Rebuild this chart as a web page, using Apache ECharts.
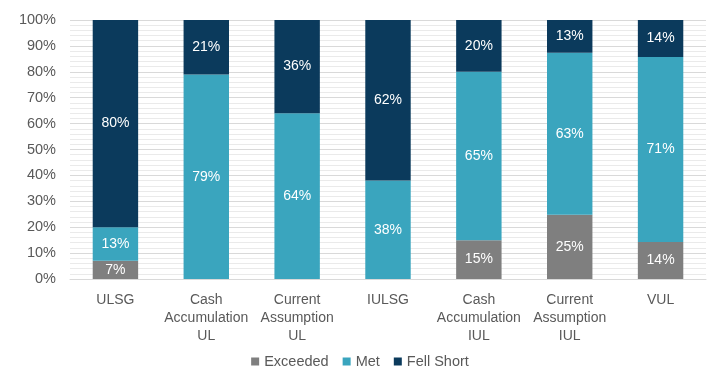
<!DOCTYPE html>
<html>
<head>
<meta charset="utf-8">
<script src="https://cdn.jsdelivr.net/npm/echarts@6/dist/echarts.min.js"></script>
<style>
  html, body { margin: 0; padding: 0; background: #fff; }
  #chart { width: 720px; height: 375px; }
</style>
</head>
<body>
<div id="chart"></div>
<script>
var categories = ['ULSG', 'Cash\nAccumulation\nUL', 'Current\nAssumption\nUL', 'IULSG',
    'Cash\nAccumulation\nIUL', 'Current\nAssumption\nIUL', 'VUL'];
// shares (labels are rounded)
var exceeded = [7, 0, 0, 0, 15, 24.8, 14.3];
var met = [13, 79, 64, 38, 65, 62.6, 71.4];
var fellShort = [80, 21, 36, 62, 20, 12.6, 14.3];
var yTicks = [0, 10, 20, 30, 40, 50, 60, 70, 80, 90, 100];

function makeSeries(name, data, color) {
    return {
        name: name,
        type: 'bar',
        stack: 'total',
        barWidth: '50%',
        data: data,
        itemStyle: { color: color },
        label: {
            show: true,
            position: 'inside',
            color: '#fff',
            fontSize: 14,
            fontFamily: 'Liberation Sans',
            formatter: function (p) { return p.value > 0 ? Math.round(p.value) + '%' : ''; }
        }
    };
}

var chart = echarts.init(document.getElementById('chart'));
var option = {
    animation: false,
    textStyle: { fontFamily: 'Liberation Sans' },
    grid: { left: 70, right: 14, top: 20, bottom: 96 },
    legend: {
        bottom: 1,
        itemWidth: 8,
        itemHeight: 8,
        itemGap: 14,
        icon: 'rect',
        textStyle: { color: '#595959', fontSize: 14.5, fontFamily: 'Liberation Sans' },
        data: ['Exceeded', 'Met', 'Fell Short']
    },
    xAxis: {
        type: 'category',
        data: categories,
        axisLine: { lineStyle: { color: '#d9d9d9' } },
        axisTick: { show: false },
        axisLabel: {
            color: '#595959', fontSize: 14, lineHeight: 18, margin: 12,
            interval: 0, fontFamily: 'Liberation Sans'
        }
    },
    yAxis: {
        type: 'value',
        min: yTicks[0],
        max: yTicks[yTicks.length - 1],
        interval: 10,
        axisLine: { show: false },
        axisTick: { show: false },
        axisLabel: {
            color: '#595959', fontSize: 14.5, margin: 14,
            fontFamily: 'Liberation Sans',
            formatter: '{value}%'
        },
        splitLine: { lineStyle: { color: '#d9d9d9' } },
        minorTick: { show: false, splitNumber: 5 },
        minorSplitLine: { show: true, lineStyle: { color: '#eaeaea' } }
    },
    series: [
        makeSeries('Exceeded', exceeded, '#7f7f7f'),
        makeSeries('Met', met, '#3aa5be'),
        makeSeries('Fell Short', fellShort, '#0b3a5c')
    ]
};
chart.setOption(option);
window.onresize = chart.resize;
</script>
</body>
</html>
